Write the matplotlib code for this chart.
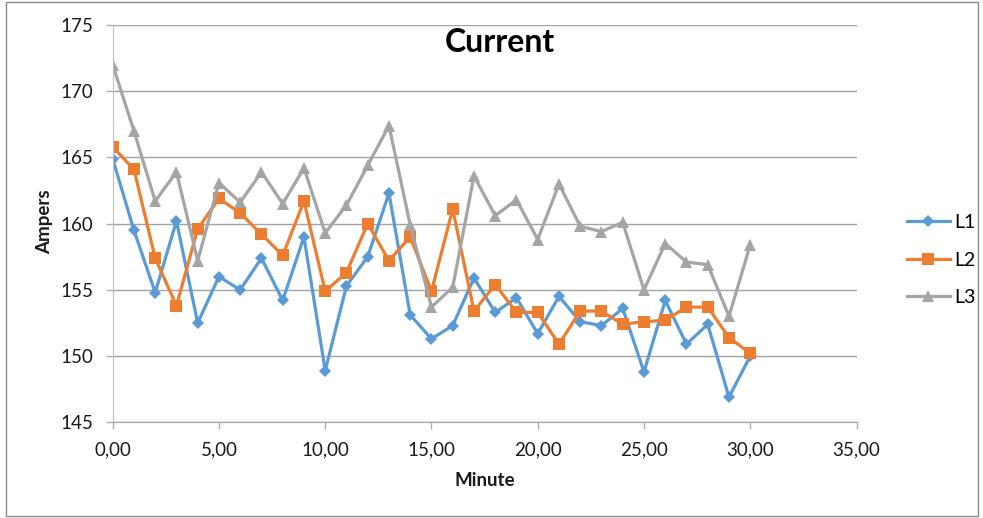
import matplotlib
matplotlib.use("Agg")
import matplotlib.pyplot as plt
from matplotlib.patches import Rectangle
from matplotlib.ticker import FuncFormatter, MultipleLocator

plt.rcParams['font.family'] = ['Lato', 'DejaVu Sans']

# Phase currents sampled once per minute
minutes = list(range(31))
l1 = [164.9, 159.5, 154.8, 160.2, 152.5, 156.0, 155.0, 157.4, 154.2, 159.0,
      148.9, 155.3, 157.5, 162.3, 153.1, 151.3, 152.3, 155.9, 153.3, 154.4,
      151.7, 154.5, 152.6, 152.3, 153.6, 148.8, 154.2, 150.9, 152.4, 146.9,
      150.0]
l2 = [165.8, 164.1, 157.4, 153.8, 159.6, 161.9, 160.8, 159.2, 157.6, 161.7,
      154.9, 156.3, 160.0, 157.2, 159.0, 154.9, 161.1, 153.4, 155.4, 153.3,
      153.3, 150.9, 153.4, 153.4, 152.4, 152.6, 152.7, 153.7, 153.7, 151.4,
      150.2]
l3 = [172.0, 167.0, 161.7, 163.9, 157.2, 163.1, 161.6, 163.9, 161.5, 164.2,
      159.3, 161.4, 164.4, 167.4, 159.9, 153.7, 155.2, 163.6, 160.6, 161.8,
      158.8, 163.0, 159.8, 159.4, 160.1, 155.0, 158.5, 157.1, 156.9, 153.0,
      158.4]
series_names = ['L1', 'L2', 'L3']

W, H = 983, 518
fig = plt.figure(figsize=(W / 100, H / 100), dpi=100)

# outer chart border
fig.patches.append(Rectangle((6 / W, 1 - 516 / H), 972 / W, 514 / H,
                             transform=fig.transFigure, fill=False,
                             edgecolor='#8c8c8c', linewidth=1.0))

left, right, top, bottom = 112.7, 856.5, 25.0, 422.3
ax = fig.add_axes([left / W, 1 - bottom / H, (right - left) / W, (bottom - top) / H])

styles = [
    dict(color='#5B9BD5', marker='D', markersize=6.5),
    dict(color='#ED7D31', marker='s', markersize=8.0),
    dict(color='#A5A5A5', marker='^', markersize=9.0),
]
for vals, name, st in zip([l1, l2, l3], series_names, styles):
    ax.plot(minutes, vals, label=name, linewidth=2.3, markeredgewidth=0, **st)

ax.set_xlim(0, 35)
ax.set_ylim(145, 175)
ax.xaxis.set_major_locator(MultipleLocator(5))
ax.yaxis.set_major_locator(MultipleLocator(5))
ax.xaxis.set_major_formatter(FuncFormatter(lambda v, p: f"{v:.2f}".replace('.', ',')))
ax.yaxis.set_major_formatter(FuncFormatter(lambda v, p: f"{v:.0f}"))

ax.grid(axis='y', color='#a3a3a3', linewidth=1.0)
ax.set_axisbelow(True)
for s in ['top', 'right']:
    ax.spines[s].set_visible(False)
ax.spines['left'].set_color('#c0c0c0')
ax.spines['bottom'].set_color('#a3a3a3')
ax.tick_params(axis='both', direction='out', length=5, width=1,
               color='#b0b0b0', labelsize=13.5, labelcolor='#1a1a1a')
ax.tick_params(axis='y', pad=9)
ax.tick_params(axis='x', pad=9)

fig.text(500 / W, 1 - 42 / H, 'Current', ha='center', va='center',
         fontsize=23, fontweight='bold', color='#000000')
fig.text(485 / W, 1 - 480 / H, 'Minute', ha='center', va='center',
         fontsize=13.5, fontweight='bold', color='#1a1a1a')
fig.text(45 / W, 1 - 222 / H, 'Ampers', ha='center', va='center',
         rotation=90, fontsize=13.5, fontweight='bold', color='#1a1a1a')

fig.legend(loc='center left', bbox_to_anchor=(907 / W, 1 - 260 / H),
           frameon=False, fontsize=14, handlelength=2.2, handletextpad=0.25,
           labelspacing=1.05, borderpad=0, borderaxespad=0)

fig.savefig('out.png', dpi=100)
